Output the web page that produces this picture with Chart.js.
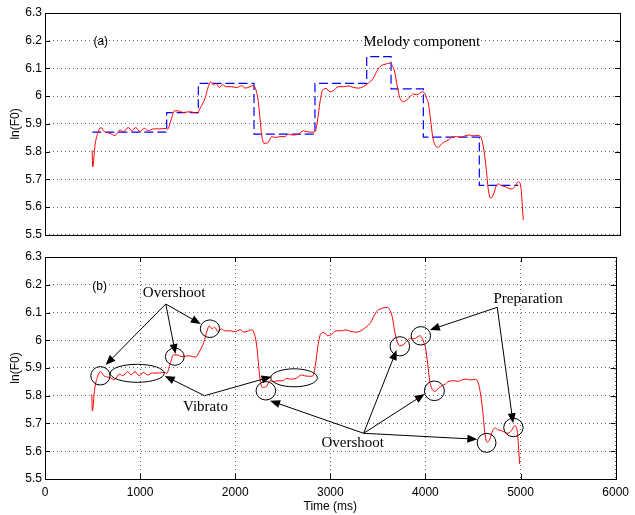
<!DOCTYPE html>
<html>
<head>
<meta charset="utf-8">
<script src="https://cdn.jsdelivr.net/npm/chart.js@4.4.0/dist/chart.umd.min.js"></script>
<style>
html, body { margin: 0; padding: 0; background: #fff; }
#c1 { position: absolute; left: 0; top: 0; }
#c2 { position: absolute; left: 0; top: 245px; }
</style>
</head>
<body>
<canvas id="c1" width="635" height="245"></canvas>
<canvas id="c2" width="635" height="270"></canvas>
<script>
// F0 contour (time in ms, ln F0)
const f0Time = [492, 498, 522, 550, 584, 619, 678, 730, 783, 817, 869, 905, 946, 991, 1036, 1078, 1130, 1200, 1252, 1280,
  1315, 1350, 1391, 1443, 1513, 1583, 1617, 1670, 1704, 1729, 1757, 1784, 1819, 1854, 1889, 1948, 2000, 2053, 2087, 2139,
  2174, 2202, 2226, 2243, 2261, 2285, 2330, 2365, 2400, 2452, 2504, 2539, 2574, 2643, 2696, 2730, 2783, 2817, 2842, 2870,
  2897, 2932, 2974, 3008, 3061, 3113, 3165, 3217, 3269, 3321, 3374, 3426, 3461, 3496, 3548, 3600, 3628, 3652, 3676, 3704,
  3733, 3774, 3809, 3843, 3878, 3941, 3965, 3989, 4000, 4024, 4045, 4070, 4104, 4139, 4174, 4209, 4244, 4296, 4348, 4383,
  4428, 4470, 4522, 4546, 4574, 4602, 4626, 4650, 4678, 4706, 4730, 4765, 4800, 4835, 4870, 4904, 4939, 4967, 4981, 4991];
const f0Value = [5.805, 5.745, 5.824, 5.866, 5.887, 5.872, 5.866, 5.858, 5.878, 5.872, 5.887, 5.875, 5.887, 5.872, 5.884, 5.875, 5.882, 5.882, 5.884, 5.881,
  5.914, 5.947, 5.947, 5.941, 5.944, 5.939, 5.955, 5.993, 6.034, 6.052, 6.041, 6.047, 6.031, 6.041, 6.034, 6.034, 6.031, 6.038, 6.029, 6.034,
  6.038, 6.022, 5.980, 5.921, 5.860, 5.830, 5.834, 5.854, 5.851, 5.854, 5.854, 5.863, 5.860, 5.863, 5.875, 5.872, 5.870, 5.872, 5.908, 5.980,
  6.022, 6.028, 6.016, 6.020, 6.034, 6.034, 6.037, 6.032, 6.029, 6.034, 6.047, 6.065, 6.089, 6.107, 6.115, 6.119, 6.107, 6.083, 6.034, 5.993,
  5.980, 5.986, 5.998, 6.008, 6.005, 6.016, 6.008, 5.986, 5.975, 5.914, 5.854, 5.824, 5.816, 5.828, 5.836, 5.842, 5.852, 5.854, 5.852, 5.857,
  5.860, 5.857, 5.859, 5.854, 5.818, 5.746, 5.662, 5.632, 5.644, 5.674, 5.684, 5.677, 5.674, 5.668, 5.665, 5.674, 5.692, 5.668, 5.602, 5.554];

// melody component (step starts)
const melodyTime = [494, 1270, 1600, 2181, 2817, 3357, 3611, 3948, 4532, 4939];
const melodyValue = [5.870, 5.941, 6.046, 5.863, 6.046, 6.143, 6.026, 5.852, 5.678, 5.678];

const xTicks = [0, 1000, 2000, 3000, 4000, 5000, 6000];
const yTicks = [5.5, 5.6, 5.7, 5.8, 5.9, 6, 6.1, 6.2, 6.3];

// annotations of panel (b), in data units
const marks = [[582, 5.8719, 9.6, 9.2], [970, 5.8809, 27, 9], [1365, 5.9407, 9.4, 8.6], [1734, 6.0416, 9.6, 8.8],
  [2619, 5.8647, 23.3, 9], [2322, 5.8178, 9.8, 9.2], [3731, 5.9782, 9.8, 9.6], [3952, 6.0160, 9.7, 9.2],
  [4094, 5.8178, 10, 9.8], [4643, 5.6304, 9.4, 9.5], [4925, 5.6856, 9.7, 9.2]];
const arrows = [
  [1270, 6.1306, 637, 5.9108], [1270, 6.1306, 1372, 5.9505], [1270, 6.1306, 1638, 6.0586],
  [1677, 5.8002, 1259, 5.8712], [1677, 5.8002, 2382, 5.8687],
  [3350, 5.6647, 2366, 5.7822], [3350, 5.6647, 3697, 5.9649], [3350, 5.6647, 3993, 5.8063], [3350, 5.6647, 4546, 5.6431],
  [4755, 6.1187, 4046, 6.0369], [4755, 6.1187, 4922, 5.7007]];
const labelsB = [['Overshoot', 1357, 6.169], ['Vibrato', 1687, 5.7605], ['Overshoot', 3235, 5.6308], ['Preparation', 5079, 6.1476]];

const sans = "'Liberation Sans', Arial, sans-serif";
const serif = "'Liberation Serif', 'Times New Roman', serif";

function pts(xs, ys) { return xs.map((t, i) => ({ x: t, y: ys[i] })); }

const framePlugin = {
  id: 'frame',
  afterDraw(chart) {
    const { ctx, chartArea: a, scales: { x, y } } = chart;
    ctx.save();
    ctx.strokeStyle = '#000';
    ctx.lineWidth = 1;
    ctx.strokeRect(Math.round(a.left) + 0.5, Math.round(a.top) + 0.5, Math.round(a.right - a.left), Math.round(a.bottom - a.top));
    ctx.beginPath();
    yTicks.forEach(v => {
      const py = Math.round(y.getPixelForValue(v)) + 0.5;
      ctx.moveTo(a.left, py); ctx.lineTo(a.left + 5, py);
      ctx.moveTo(a.right, py); ctx.lineTo(a.right - 5, py);
    });
    if (chart.canvas.id === 'c2') {
      xTicks.forEach(v => {
        const px = Math.round(x.getPixelForValue(v)) + 0.5;
        ctx.moveTo(px, a.bottom); ctx.lineTo(px, a.bottom - 5);
        ctx.moveTo(px, a.top); ctx.lineTo(px, a.top + 5);
      });
    }
    ctx.stroke();
    ctx.restore();
  }
};

function text(ctx, s, px, py, font) {
  ctx.font = font;
  ctx.textAlign = 'center';
  ctx.textBaseline = 'middle';
  ctx.fillStyle = '#000';
  ctx.fillText(s, px, py);
}

const notesA = {
  id: 'notesA',
  afterDraw(chart) {
    const { ctx, scales: { x, y } } = chart;
    ctx.save();
    text(ctx, '(a)', x.getPixelForValue(582), y.getPixelForValue(6.1966), '12px ' + sans);
    text(ctx, 'Melody component', x.getPixelForValue(3931), y.getPixelForValue(6.1966), '15px ' + serif);
    ctx.restore();
  }
};

const notesB = {
  id: 'notesB',
  afterDraw(chart) {
    const { ctx, scales: { x, y } } = chart;
    ctx.save();
    text(ctx, '(b)', x.getPixelForValue(574), y.getPixelForValue(6.193), '12px ' + sans);
    ctx.strokeStyle = '#000';
    ctx.fillStyle = '#000';
    ctx.lineWidth = 1;
    marks.forEach(m => {
      ctx.beginPath();
      ctx.ellipse(x.getPixelForValue(m[0]), y.getPixelForValue(m[1]), m[2], m[3], 0, 0, Math.PI * 2);
      ctx.stroke();
    });
    arrows.forEach(a => {
      const x0 = x.getPixelForValue(a[0]), y0 = y.getPixelForValue(a[1]);
      const x1 = x.getPixelForValue(a[2]), y1 = y.getPixelForValue(a[3]);
      const ang = Math.atan2(y1 - y0, x1 - x0);
      ctx.beginPath();
      ctx.moveTo(x0, y0); ctx.lineTo(x1 - 8 * Math.cos(ang), y1 - 8 * Math.sin(ang));
      ctx.stroke();
      ctx.beginPath();
      ctx.moveTo(x1, y1);
      ctx.lineTo(x1 - 10 * Math.cos(ang) + 4 * Math.sin(ang), y1 - 10 * Math.sin(ang) - 4 * Math.cos(ang));
      ctx.lineTo(x1 - 10 * Math.cos(ang) - 4 * Math.sin(ang), y1 - 10 * Math.sin(ang) + 4 * Math.cos(ang));
      ctx.closePath();
      ctx.fill();
    });
    labelsB.forEach(l => text(ctx, l[0], x.getPixelForValue(l[1]), y.getPixelForValue(l[2]), '15px ' + serif));
    ctx.restore();
  }
};

function yScale() {
  return {
    min: 5.5, max: 6.3,
    afterFit(s) { s.width = 45; },
    afterBuildTicks(s) { s.ticks = yTicks.map(v => ({ value: v })); },
    ticks: { color: '#000', padding: 3, font: { family: sans, size: 12 }, callback: v => String(Number(v.toFixed(1))) },
    grid: { drawTicks: false, color: 'rgba(0,0,0,0.6)', lineWidth: 1 },
    border: { display: false, dash: [1, 3] },
    title: { display: true, text: 'ln(F0)', color: '#000', font: { family: sans, size: 12 }, padding: { top: 8, bottom: 0 } }
  };
}

const common = {
  responsive: false,
  animation: false,
  plugins: { legend: { display: false }, tooltip: { enabled: false } },
  elements: { point: { radius: 0 } }
};

new Chart(document.getElementById('c1'), {
  type: 'line',
  data: {
    datasets: [
      { data: pts(f0Time, f0Value), borderColor: '#ff0000', borderWidth: 1, cubicInterpolationMode: 'monotone' },
      { data: pts(melodyTime, melodyValue), borderColor: '#0000ff', borderWidth: 1.2, borderDash: [9, 4], stepped: 'before' }
    ]
  },
  options: Object.assign({}, common, {
    layout: { padding: { left: 0, right: 15, top: 13, bottom: 10 } },
    scales: {
      x: { type: 'linear', min: 0, max: 6000, display: false },
      y: yScale()
    }
  }),
  plugins: [framePlugin, notesA]
});

new Chart(document.getElementById('c2'), {
  type: 'line',
  data: {
    datasets: [
      { data: pts(f0Time, f0Value), borderColor: '#ff0000', borderWidth: 1, cubicInterpolationMode: 'monotone' }
    ]
  },
  options: Object.assign({}, common, {
    layout: { padding: { left: 0, right: 15, top: 12, bottom: 0 } },
    scales: {
      x: {
        type: 'linear', min: 0, max: 6000,
        afterFit(s) { s.height = 36; },
        afterBuildTicks(s) { s.ticks = xTicks.map(v => ({ value: v })); },
        ticks: { color: '#000', padding: 6, maxRotation: 0, font: { family: sans, size: 12 }, callback: v => String(v) },
        grid: { drawTicks: false, color: 'rgba(0,0,0,0.6)', lineWidth: 1 },
        border: { display: false, dash: [1, 3] },
        title: { display: true, text: 'Time (ms)', color: '#000', font: { family: sans, size: 12 }, padding: { top: 0, bottom: 1 } }
      },
      y: yScale()
    }
  }),
  plugins: [framePlugin, notesB]
});
</script>
</body>
</html>
